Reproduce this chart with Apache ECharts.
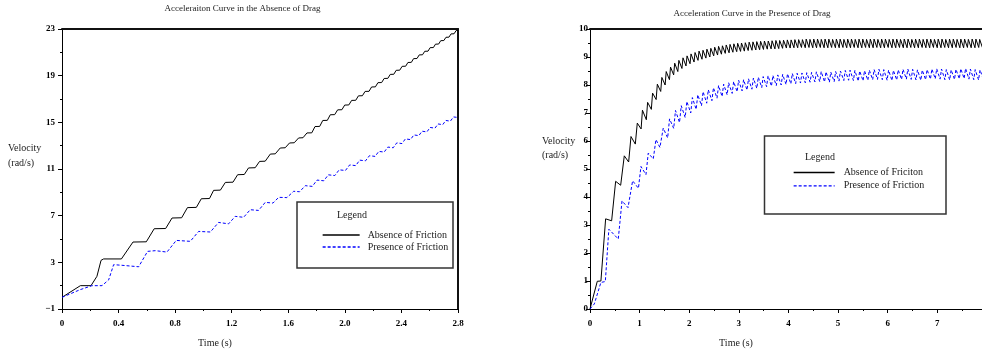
<!DOCTYPE html>
<html>
<head>
<meta charset="utf-8">
<script src="https://cdn.jsdelivr.net/npm/echarts/dist/echarts.min.js"></script>
<style>html,body{margin:0;padding:0;background:#fff;}#chart{width:982px;height:352px;}</style>
</head>
<body>
<div id="chart"></div>
<script>
// ---------------- Data ----------------
const leftTitle = 'Acceleraiton Curve in the Absence of Drag';
const rightTitle = 'Acceleration Curve in the Presence of Drag';
const leftLegendNames = ['Absence of Friction', 'Presence of Friction'];
const rightLegendNames = ['Absence of Friciton', 'Presence of Friction'];

const leftXMajor = [0, 0.4, 0.8, 1.2, 1.6, 2.0, 2.4, 2.8];
const leftXMinor = [0.2, 0.6, 1.0, 1.4, 1.8, 2.2, 2.6];
const leftYMajor = [-1, 3, 7, 11, 15, 19, 23];
const leftYMinor = [1, 5, 9, 13, 17, 21];
const rightXMajor = [0, 1, 2, 3, 4, 5, 6, 7];
const rightXMinor = [0.5, 1.5, 2.5, 3.5, 4.5, 5.5, 6.5, 7.5];
const rightYMajor = [0, 1, 2, 3, 4, 5, 6, 7, 8, 9, 10];
const rightYMinor = [0.5, 1.5, 2.5, 3.5, 4.5, 5.5, 6.5, 7.5, 8.5, 9.5];

// Absence of drag, absence of friction  [time s, velocity rad/s]
const noDragAbsence = [[0,0],[0.13,1.0],[0.205,1.0],[0.247,1.8],[0.276,3.17],[0.294,3.29],[0.42,3.29],[0.502,4.74],[0.596,4.76],[0.652,5.88],[0.733,5.9],[0.778,6.8],[0.846,6.82],[0.887,7.69],[0.95,7.71],[0.985,8.45],[1.043,8.47],[1.072,9.17],[1.12,9.19],[1.155,9.85],[1.209,9.87],[1.242,10.51],[1.289,10.53],[1.319,11.09],[1.366,11.11],[1.397,11.65],[1.437,11.67],[1.473,12.28],[1.508,12.3],[1.543,12.8],[1.578,12.82],[1.609,13.23],[1.642,13.25],[1.673,13.66],[1.704,13.68],[1.732,14.09],
[1.766,14.1],[1.789,14.64],[1.822,14.65],[1.844,15.16],[1.876,15.17],[1.897,15.65],[1.928,15.66],[1.949,16.07],[1.979,16.08],[1.999,16.48],[2.028,16.49],[2.048,16.88],[2.077,16.89],[2.096,17.27],[2.124,17.28],[2.143,17.65],[2.171,17.66],[2.189,18.03],[2.216,18.04],[2.234,18.40],[2.260,18.41],[2.278,18.76],[2.304,18.77],[2.321,19.11],[2.346,19.12],[2.363,19.46],[2.388,19.47],[2.405,19.80],[2.430,19.81],[2.446,20.13],[2.470,20.14],[2.486,20.46],[2.510,20.47],[2.526,20.78],[2.549,20.79],[2.565,21.09],[2.588,21.10],[2.603,21.40],[2.626,21.41],[2.641,21.70],[2.663,21.71],[2.678,22.00],[2.700,22.01],[2.715,22.29],[2.736,22.30],[2.751,22.58],[2.772,22.59],[2.787,22.87],[2.8,22.88]];

// Absence of drag, presence of friction
const noDragPresence = [[0,0],[0.129,0.66],[0.212,1.0],[0.283,1.0],[0.33,1.5],[0.365,2.8],[0.42,2.75],[0.542,2.62],[0.605,3.94],[0.66,4.0],[0.742,3.88],[0.808,4.88],[0.907,4.8],[0.966,5.65],[1.049,5.6],[1.107,6.42],[1.178,6.3],[1.225,6.94],[1.284,6.86],[1.331,7.51],[1.39,7.45],[1.437,8.14],[1.492,8.08],[1.532,8.57],[1.59,8.55],[1.638,9.09],[1.68,9.05],[1.72,9.57],
[1.77,9.51],[1.803,10.05],[1.851,9.99],[1.883,10.50],[1.929,10.44],[1.960,10.93],[2.004,10.87],[2.034,11.35],[2.077,11.29],[2.105,11.76],[2.146,11.70],[2.174,12.14],[2.214,12.08],[2.240,12.51],[2.278,12.45],[2.304,12.88],[2.342,12.82],[2.367,13.24],[2.404,13.18],[2.428,13.58],[2.464,13.52],[2.488,13.92],[2.523,13.86],[2.546,14.24],[2.580,14.18],[2.603,14.56],[2.637,14.50],[2.659,14.86],[2.692,14.80],[2.714,15.16],[2.746,15.10],[2.768,15.46],[2.8,15.42]];

// Presence of drag, absence of friction
const dragAbsence = [[0,0],[0.147,0.99],[0.22,1.0],[0.315,3.22],[0.436,3.15],[0.517,4.56],[0.618,4.42],[0.691,5.47],[0.779,5.25],[0.826,6.16],[0.913,5.89],[0.953,6.64],[1.03,6.43],[1.057,7.10],
[1.135,6.76],[1.161,7.38],[1.236,7.13],[1.261,7.71],[1.333,7.48],[1.357,8.03],[1.425,7.77],[1.448,8.27],[1.514,8.00],[1.536,8.48],[1.601,8.19],[1.623,8.64],[1.686,8.36],[1.707,8.78],[1.770,8.48],[1.791,8.88],[1.853,8.59],[1.874,8.97],[1.935,8.68],[1.956,9.04],[2.016,8.76],[2.036,9.11],[2.097,8.82],[2.117,9.16],[2.177,8.88],[2.197,9.21],[2.257,8.92],[2.277,9.24],[2.336,8.96],[2.356,9.28],[2.415,9.00],[2.435,9.31],[2.493,9.04],[2.513,9.35],[2.571,9.07],[2.591,9.38],[2.649,9.10],[2.669,9.40],[2.726,9.13],[2.745,9.43],[2.803,9.15],[2.822,9.45],[2.880,9.17],[2.899,9.47],[2.957,9.19],[2.976,9.49],[3.034,9.20],[3.053,9.50],[3.111,9.21],[3.130,9.51],[3.188,9.23],[3.207,9.53],[3.265,9.24],[3.284,9.54],[3.342,9.25],[3.361,9.55],[3.419,9.26],[3.438,9.56],[3.496,9.27],[3.515,9.57],[3.573,9.28],[3.592,9.57],[3.650,9.29],[3.669,9.58],[3.727,9.29],[3.746,9.59],[3.804,9.30],[3.823,9.59],[3.881,9.31],[3.900,9.60],[3.958,9.32],[3.977,9.61],[4.034,9.32],[4.053,9.61],[4.110,9.33],[4.129,9.62],[4.186,9.33],[4.205,9.62],[4.262,9.34],[4.281,9.62],
[4.338,9.33],[4.357,9.64],[4.414,9.34],[4.433,9.63],[4.490,9.33],[4.509,9.64],[4.566,9.33],[4.585,9.64],[4.642,9.34],[4.661,9.63],[4.718,9.33],[4.737,9.64],[4.794,9.33],[4.813,9.64],[4.870,9.34],[4.889,9.63],[4.946,9.33],[4.965,9.64],[5.022,9.33],[5.041,9.64],[5.098,9.34],[5.117,9.63],[5.174,9.33],[5.193,9.64],[5.250,9.33],[5.269,9.64],[5.326,9.34],[5.345,9.63],[5.402,9.33],[5.421,9.64],[5.478,9.33],[5.497,9.64],[5.554,9.34],[5.573,9.63],[5.630,9.33],[5.649,9.64],[5.706,9.33],[5.725,9.64],[5.782,9.34],[5.801,9.63],[5.858,9.33],[5.877,9.64],[5.934,9.33],[5.953,9.64],[6.010,9.34],[6.029,9.63],[6.086,9.33],[6.105,9.64],[6.162,9.33],[6.181,9.64],[6.238,9.34],[6.257,9.63],[6.314,9.33],[6.333,9.64],[6.390,9.33],[6.409,9.64],[6.466,9.34],[6.485,9.63],[6.542,9.33],[6.561,9.64],[6.618,9.33],[6.637,9.64],[6.694,9.34],[6.713,9.63],[6.770,9.33],[6.789,9.64],[6.846,9.33],[6.865,9.64],[6.922,9.34],[6.941,9.63],[6.998,9.33],[7.017,9.64],[7.074,9.33],[7.093,9.64],[7.150,9.34],[7.169,9.63],[7.226,9.33],[7.245,9.64],[7.302,9.33],[7.321,9.64],[7.378,9.34],[7.397,9.63],[7.454,9.33],[7.473,9.64],[7.530,9.33],[7.549,9.64],[7.606,9.34],[7.625,9.63],[7.682,9.33],[7.701,9.64],[7.758,9.33],[7.777,9.64],[7.834,9.34],[7.853,9.63],[7.910,9.33],[7.929,9.64],[7.986,9.33],[8.005,9.64]];

// Presence of drag, presence of friction
const dragPresence = [[0,0],[0.087,0.18],[0.22,0.95],[0.309,0.98],[0.38,2.85],[0.57,2.5],[0.645,3.86],[0.766,3.62],[0.859,4.58],[0.976,4.31],[1.027,5.09],[1.128,4.8],[1.174,5.57],[1.275,5.36],[1.329,6.05],[1.409,5.77],[1.476,6.46],
[1.565,6.11],[1.603,6.79],[1.687,6.45],[1.723,7.09],[1.804,6.66],[1.839,7.26],[1.918,6.84],[1.952,7.41],[2.030,7.00],[2.063,7.55],[2.139,7.13],[2.172,7.65],[2.247,7.26],[2.279,7.76],[2.352,7.35],[2.384,7.83],[2.457,7.44],[2.488,7.90],[2.560,7.53],[2.591,7.98],[2.662,7.59],[2.693,8.03],[2.764,7.65],[2.794,8.08],[2.865,7.70],[2.895,8.12],[2.965,7.76],[2.995,8.17],[3.065,7.79],[3.095,8.19],[3.164,7.82],[3.194,8.22],[3.263,7.85],[3.293,8.25],[3.362,7.88],[3.392,8.28],[3.461,7.91],[3.490,8.30],[3.559,7.94],[3.588,8.33],[3.657,7.96],[3.686,8.34],[3.755,7.98],[3.784,8.36],[3.853,8.00],[3.882,8.38],[3.951,8.02],[3.980,8.40],[4.048,8.04],[4.077,8.41],[4.145,8.05],[4.174,8.42],[4.242,8.07],[4.271,8.43],
[4.339,8.08],[4.368,8.44],[4.436,8.10],[4.465,8.45],[4.533,8.11],[4.562,8.47],[4.630,8.12],[4.659,8.48],[4.727,8.11],[4.756,8.47],[4.824,8.10],[4.853,8.46],[4.921,8.12],[4.950,8.48],[5.018,8.14],[5.047,8.50],[5.115,8.16],[5.144,8.52],[5.212,8.17],[5.241,8.53],[5.309,8.16],[5.338,8.52],[5.406,8.14],[5.435,8.50],[5.503,8.15],[5.532,8.51],[5.600,8.17],[5.629,8.53],[5.697,8.19],[5.726,8.55],[5.794,8.20],[5.823,8.56],[5.891,8.19],[5.920,8.55],[5.988,8.17],[6.017,8.53],[6.085,8.16],[6.114,8.52],[6.182,8.18],[6.211,8.54],[6.279,8.20],[6.308,8.56],[6.376,8.21],[6.405,8.57],[6.473,8.20],[6.502,8.56],[6.570,8.18],[6.599,8.54],[6.667,8.17],[6.696,8.53],[6.764,8.19],[6.793,8.55],[6.861,8.21],[6.890,8.57],[6.958,8.22],[6.987,8.58],[7.055,8.21],[7.084,8.57],[7.152,8.19],[7.181,8.55],[7.249,8.18],[7.278,8.54],[7.346,8.20],[7.375,8.56],[7.443,8.22],[7.472,8.58],[7.540,8.23],[7.569,8.59],[7.637,8.21],[7.666,8.57],[7.734,8.19],[7.763,8.55],[7.831,8.18],[7.860,8.54],[7.928,8.20],[7.957,8.56]];

// ---------------- Chart ----------------
const FONT = '"Liberation Serif", "Times New Roman", serif';
const BLUE = '#0000ff';
const chart = echarts.init(document.getElementById('chart'), null, {renderer: 'canvas', width: 982, height: 352});

const LEFT_GRID = {left: 62, top: 29, width: 396, height: 280};
const RIGHT_GRID = {left: 590, top: 29, width: 392, height: 280};

function labelStyle(extra) {
  return Object.assign({fontFamily: FONT, fontSize: 9, fontWeight: 'bold', color: '#000'}, extra);
}
function mainAxis(gridIndex, pos, min, max, major, fmt, margin) {
  return {
    type: 'value', gridIndex, position: pos, min, max,
    axisLine: {show: true, onZero: false, lineStyle: {color: '#000', width: 1}},
    axisTick: {show: true, customValues: major, length: 4, lineStyle: {color: '#000', width: 1}},
    axisLabel: labelStyle({customValues: major, formatter: fmt, margin: margin}),
    splitLine: {show: false}
  };
}
function minorAxis(gridIndex, pos, min, max, minor) {
  return {
    type: 'value', gridIndex, position: pos, min, max,
    axisLine: {show: false, onZero: false},
    axisTick: {show: true, customValues: minor, length: 2, lineStyle: {color: '#000', width: 1}},
    axisLabel: {show: false},
    splitLine: {show: false}
  };
}
function frameAxis(gridIndex, pos, min, max) {
  return {
    type: 'value', gridIndex, position: pos, min, max,
    axisLine: {show: true, onZero: false, lineStyle: {color: '#111', width: 2}},
    axisTick: {show: false}, axisLabel: {show: false}, splitLine: {show: false}
  };
}

const fmtLeftX = v => (v === 0 ? '0' : v.toFixed(1));
const fmtInt = v => (v < 0 ? '\u2212' + Math.abs(v) : String(v));

function txt(x, y, text, size, align, color) {
  return {
    type: 'text', x: x, y: y, silent: true, z: 10,
    style: {text: text, font: size + 'px ' + FONT, fill: color || '#222',
      align: align || 'center', verticalAlign: 'middle',
      textAlign: align || 'center', textVerticalAlign: 'middle'}
  };
}

const legendText = {fontFamily: FONT, fontSize: 10, color: '#222'};
const legendSymbolHidden = {opacity: 0, borderWidth: 0, color: 'transparent'};

const option = {
  animation: false,
  backgroundColor: '#fff',
  grid: [
    Object.assign({containLabel: false}, LEFT_GRID),
    Object.assign({containLabel: false}, LEFT_GRID),
    Object.assign({containLabel: false}, RIGHT_GRID),
    Object.assign({containLabel: false}, RIGHT_GRID)
  ],
  xAxis: [
    mainAxis(0, 'bottom', 0, 2.8, leftXMajor, fmtLeftX, 10),
    frameAxis(0, 'top', 0, 2.8),
    minorAxis(1, 'bottom', 0, 2.8, leftXMinor),
    mainAxis(2, 'bottom', 0, 7.9, rightXMajor, fmtInt, 10),
    frameAxis(2, 'top', 0, 7.9),
    minorAxis(3, 'bottom', 0, 7.9, rightXMinor)
  ],
  yAxis: [
    mainAxis(0, 'left', -1, 23, leftYMajor, fmtInt, 7),
    frameAxis(0, 'right', -1, 23),
    minorAxis(1, 'left', -1, 23, leftYMinor),
    mainAxis(2, 'left', 0, 10, rightYMajor, fmtInt, 2),
    minorAxis(3, 'left', 0, 10, rightYMinor)
  ],
  legend: [
    {
      data: leftLegendNames, orient: 'vertical', left: 322, top: 230, padding: 0,
      itemWidth: 37, itemHeight: 10, itemGap: 2, selectedMode: false,
      itemStyle: legendSymbolHidden, lineStyle: {width: 1.3},
      textStyle: Object.assign({padding: [0, 0, 0, 3]}, legendText)
    },
    {
      data: rightLegendNames, orient: 'vertical', left: 793, top: 167.5, padding: 0,
      itemWidth: 41, itemHeight: 10, itemGap: 3.3, selectedMode: false,
      itemStyle: legendSymbolHidden, lineStyle: {width: 1.3},
      textStyle: Object.assign({padding: [0, 0, 0, 4]}, legendText)
    }
  ],
  series: [
    {type: 'line', name: leftLegendNames[0], xAxisIndex: 0, yAxisIndex: 0, data: noDragAbsence,
      symbol: 'none', showSymbol: false, clip: true,
      lineStyle: {color: '#000', width: 1}, itemStyle: {color: '#000'}},
    {type: 'line', name: leftLegendNames[1], xAxisIndex: 0, yAxisIndex: 0, data: noDragPresence,
      symbol: 'none', showSymbol: false, clip: true,
      lineStyle: {color: BLUE, width: 1, type: [3, 2]}, itemStyle: {color: BLUE}},
    {type: 'line', name: rightLegendNames[0], xAxisIndex: 3, yAxisIndex: 3, data: dragAbsence,
      symbol: 'none', showSymbol: false, clip: true,
      lineStyle: {color: '#000', width: 1}, itemStyle: {color: '#000'}},
    {type: 'line', name: rightLegendNames[1], xAxisIndex: 3, yAxisIndex: 3, data: dragPresence,
      symbol: 'none', showSymbol: false, clip: true,
      lineStyle: {color: BLUE, width: 1, type: [3, 2]}, itemStyle: {color: BLUE}}
  ],
  graphic: [
    txt(242.5, 9, leftTitle, 9),
    txt(752, 13.5, rightTitle, 9),
    txt(8, 148, 'Velocity', 10, 'left'),
    txt(8, 163, '(rad/s)', 10, 'left'),
    txt(542, 141, 'Velocity', 10, 'left'),
    txt(542, 155, '(rad/s)', 10, 'left'),
    txt(215, 343, 'Time (s)', 10),
    txt(736, 343, 'Time (s)', 10),
    {type: 'rect', silent: true, z: 5, shape: {x: 297, y: 202, width: 156, height: 66},
      style: {fill: 'none', stroke: '#333', lineWidth: 1.5}},
    txt(352, 215, 'Legend', 10),
    {type: 'rect', silent: true, z: 5, shape: {x: 764.5, y: 136, width: 181.5, height: 78},
      style: {fill: 'none', stroke: '#333', lineWidth: 1.5}},
    txt(820, 157.5, 'Legend', 10)
  ]
};
chart.setOption(option);
</script>
</body>
</html>
